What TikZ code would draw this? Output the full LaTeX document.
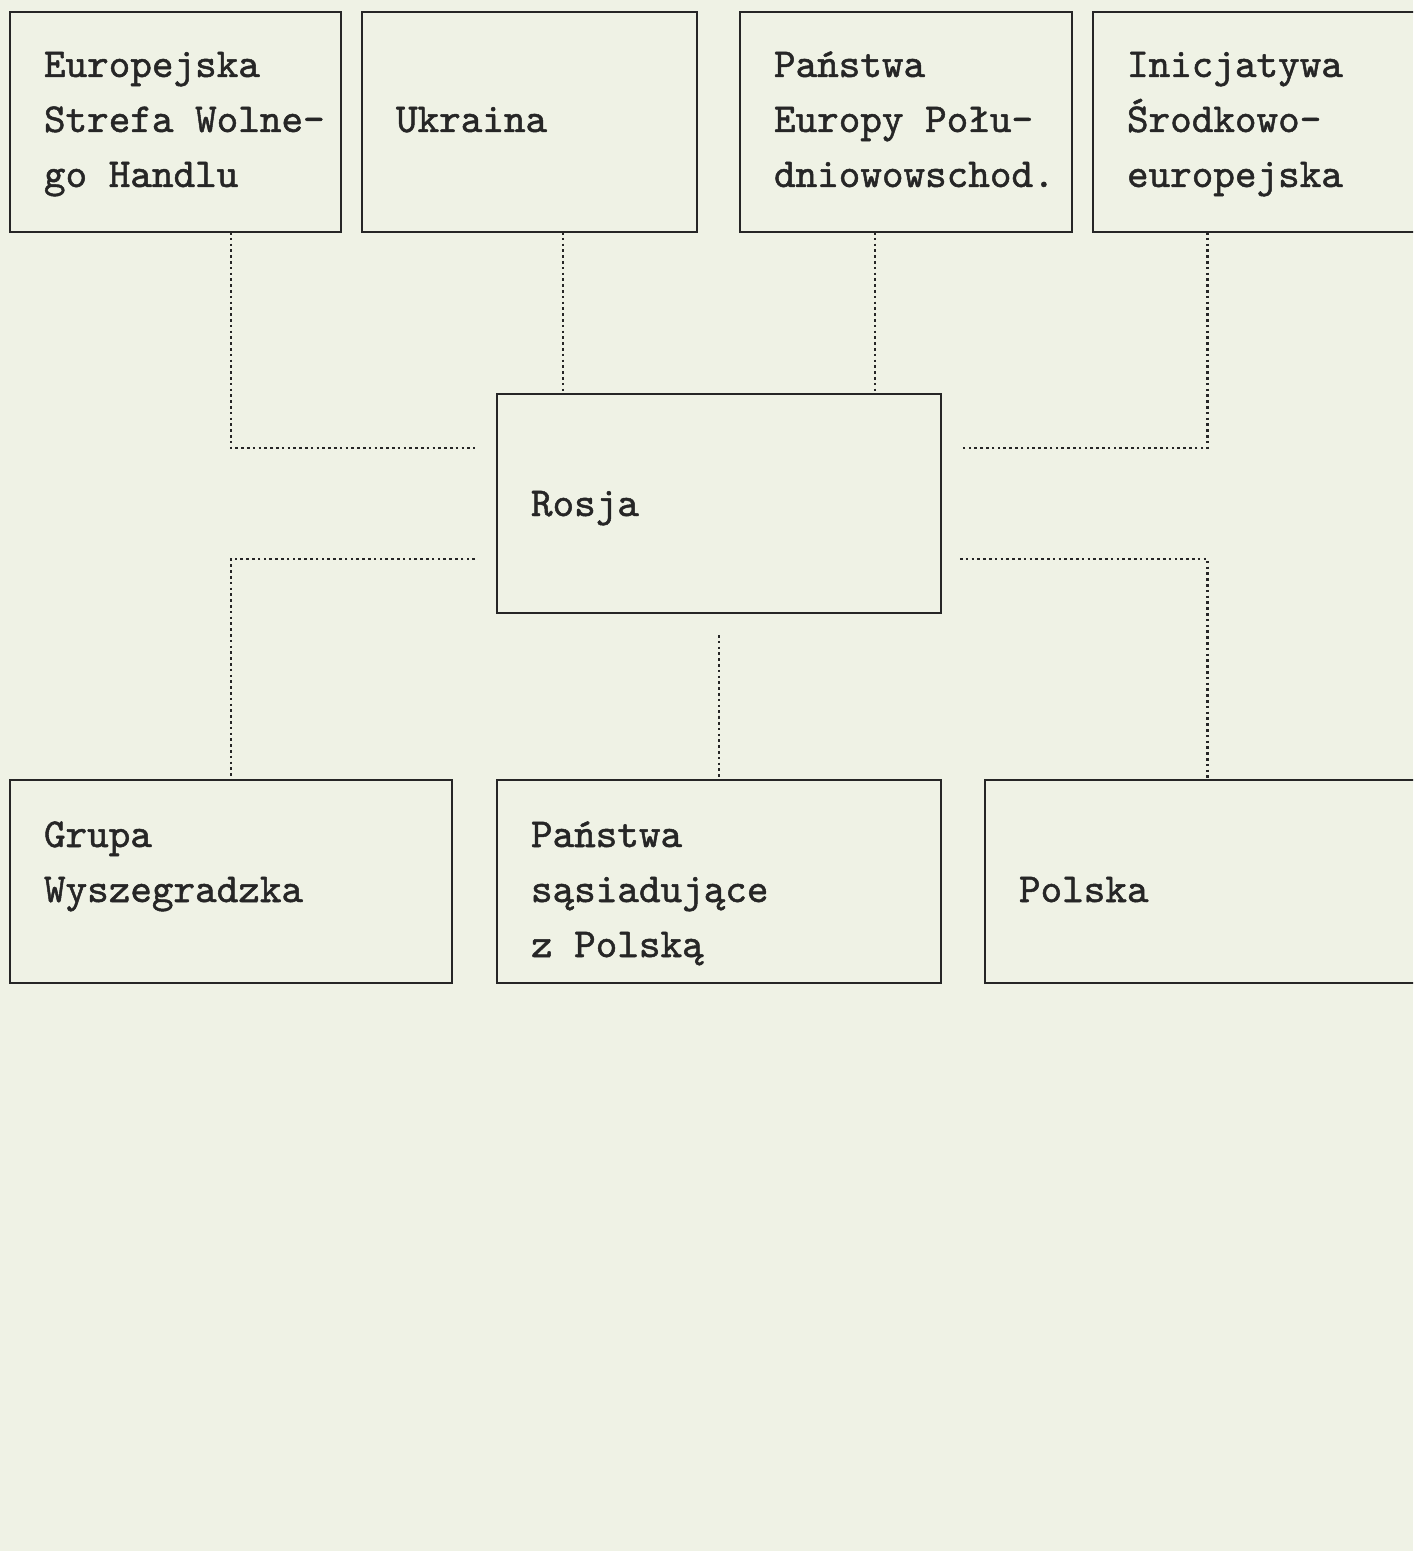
\documentclass[tikz,border=0pt]{standalone}
\usepackage{fontspec}
\newfontfamily\printerfont{lmmono10-regular.otf}[HyphenChar=None, FakeBold=1.2]
\newcommand{\fixspace}{\spaceskip=\fontcharwd\font`\a\relax
  \xspaceskip=\spaceskip}
\usepackage{tikz}
\usetikzlibrary{positioning,calc}
\usepackage{xcolor}
\definecolor{paper}{RGB}{239,242,229}
\definecolor{inkgray}{RGB}{38,38,38}

\begin{document}
\begin{tikzpicture}[
      font=\printerfont\fontsize{11.7pt}{15.65pt}\selectfont,
      box/.style 2 args={draw=inkgray, line width=0.8pt, text=inkgray,
                  align=left, inner xsep=0.34cm, inner ysep=0pt, outer sep=0pt,
                  text height=#1, text depth=#2,
                  execute at begin node=\fixspace},
      link/.style={draw=inkgray, line width=0.75pt,
                   dash pattern=on 0.75pt off 0.9pt}
    ]
    \useasboundingbox[fill=paper] (0,0) rectangle (14.13,-15.51);
    \clip (0,0) rectangle (14.13,-15.51);

    \node[box={0.65cm}{1.55cm}, text width=2.63cm, anchor=north west]
      (eswh) at (0.10,-0.12) {Europejska\\Strefa~Wolne-\\go~Handlu};
    \node[box={1.20cm}{1.00cm}, text width=2.67cm, right=0.21cm of eswh]
      (ukr) {Ukraina};
    \node[box={0.65cm}{1.55cm}, text width=2.64cm, right=0.43cm of ukr]
      (peps) {Państwa\\Europy~Połu-\\dniowowschod.};
    \node[box={0.65cm}{1.55cm}, text width=2.72cm, right=0.21cm of peps]
      (ise) {Inicjatywa\\Środkowo-\\europejska};

    \node[box={1.22cm}{0.97cm}, text width=3.76cm, anchor=north west]
      (rosja) at (4.97,-3.94) {Rosja};

    \node[box={0.67cm}{1.36cm}, text width=3.74cm, anchor=north west]
      (grupa) at (0.10,-7.80) {Grupa\\Wyszegradzka};
    \node[box={0.67cm}{1.36cm}, text width=3.76cm, right=0.45cm of grupa]
      (psp) {Państwa\\sąsiadujące\\z~Polską};
    \node[box={1.22cm}{0.81cm}, text width=3.77cm, right=0.44cm of psp]
      (polska) {Polska};

    \coordinate (ru) at ($(rosja.north west)+(0.66,0)$);
    \coordinate (rp) at ($(rosja.north east)+(-0.66,0)$);
    \coordinate (rnw) at ($(rosja.north west)+(-0.22,-0.54)$);
    \coordinate (rne) at ($(rosja.north east)+(0.19,-0.54)$);
    \coordinate (rsw) at ($(rosja.south west)+(-0.22,0.54)$);
    \coordinate (rse) at ($(rosja.south east)+(0.19,0.54)$);
    \coordinate (rs) at ($(rosja.south)+(0,-0.22)$);

    \draw[link] (ukr.south -| ru) -- (ru);
    \draw[link] (peps.south -| rp) -- (rp);
    \draw[link] (eswh.south -| grupa.north) |- (rnw);
    \draw[link] (ise.south -| polska.north) |- (rne);
    \draw[link] (rsw) -| (grupa.north);
    \draw[link] (rse) -| (polska.north);
    \draw[link] (rs) -- (rs |- psp.north);
  \end{tikzpicture}
\end{document}
